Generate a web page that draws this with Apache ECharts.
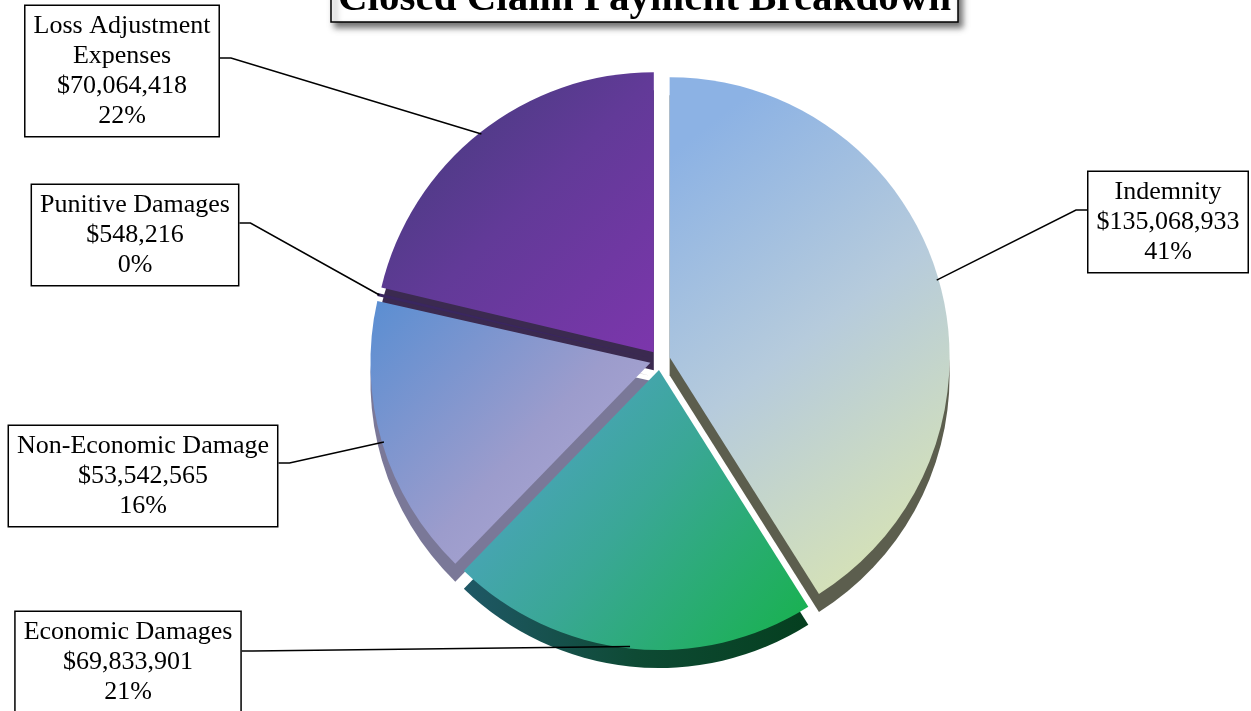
<!DOCTYPE html>
<html><head><meta charset="utf-8">
<script src="https://cdn.jsdelivr.net/npm/echarts@6/dist/echarts.min.js"></script>
<style>html,body{margin:0;padding:0;background:#fff}#c{width:1251px;height:711px}</style>
</head><body><div id="c"></div>
<script>
// ---- data ----
const categories = ['Indemnity', 'Economic Damages', 'Non-Economic Damage', 'Punitive Damages', 'Loss Adjustment\nExpenses'];
const amounts = [135068933, 69833901, 53542565, 548216, 70064418];
const titleText = 'Closed Claim Payment Breakdown';

// ---- styles / layout ----
const G = echarts.graphic.LinearGradient;
const topStyles = [
  new G(0, 0.15, 1, 0.85, [{offset: 0, color: '#8cb2e4'}, {offset: 0.5, color: '#b6cbdc'}, {offset: 1, color: '#d6e2b6'}]),
  new G(0, 0, 1, 1, [{offset: 0, color: '#56a2d4'}, {offset: 0.5, color: '#3aa796'}, {offset: 1, color: '#16b24a'}]),
  new G(0, 0, 1, 1, [{offset: 0, color: '#5a8ed2'}, {offset: 0.55, color: '#9c9ccc'}, {offset: 1, color: '#b4acd6'}]),
  '#3a2660',
  new G(0, 0, 1, 1, [{offset: 0, color: '#3f3c78'}, {offset: 0.5, color: '#623a98'}, {offset: 1, color: '#7c36ac'}])
];
const sideStyles = [
  '#5c5e4e',
  new G(0, 0, 1, 0, [{offset: 0, color: '#1f5866'}, {offset: 0.5, color: '#0e4a34'}, {offset: 1, color: '#053f1f'}]),
  '#7a7898',
  '#2a1a3c',
  '#3b2a50'
];
// label box centres and leader-line heights
const labelBoxes = [
  {cx: 1168, cy: 222, lineY: 210, side: 'left'},
  {cx: 128,  cy: 662, lineY: 651, side: 'right'},
  {cx: 143,  cy: 476, lineY: 463, side: 'right'},
  {cx: 135,  cy: 235, lineY: 223, side: 'right'},
  {cx: 122,  cy: 71,  lineY: 58,  side: 'right'}
];
const pieCenter = [660, 360];
const pieRadius = 280;
const depth = 18;
const explode = 10;

const fmtMoney = v => '$' + v.toLocaleString('en-US');

const makeData = styles => categories.map((name, i) => ({
  name: name, value: amounts[i], selected: true,
  itemStyle: {color: styles[i]}
}));

const basePie = {
  type: 'pie',
  radius: [0, pieRadius],
  startAngle: 90, clockwise: true,
  emphasis: {disabled: true},
  silent: true
};

const chart = echarts.init(document.getElementById('c'));
chart.setOption({
  animation: false,
  backgroundColor: '#fff',
  title: {
    text: titleText,
    left: 331, top: -21,
    padding: [0, 7, 2, 7],
    backgroundColor: '#fff',
    borderColor: '#000', borderWidth: 1.5,
    shadowColor: 'rgba(0,0,0,0.55)', shadowBlur: 6, shadowOffsetX: 4, shadowOffsetY: 5,
    textStyle: {fontFamily: 'Liberation Serif', fontWeight: 'bold', fontSize: 41, lineHeight: 41, color: '#000'}
  },
  series: [
    Object.assign({}, basePie, {
      z: 1,
      center: [pieCenter[0], pieCenter[1] + depth],
      selectedMode: 'multiple', selectedOffset: explode,
      label: {show: false}, labelLine: {show: false},
      data: makeData(sideStyles)
    }),
    Object.assign({}, basePie, {
      z: 2,
      center: pieCenter,
      selectedMode: 'multiple', selectedOffset: explode,
      label: {show: false}, labelLine: {show: false},
      data: makeData(topStyles)
    }),
    // label carrier: same values, transparent sectors, not exploded
    Object.assign({}, basePie, {
      z: 3,
      center: pieCenter,
      selectedMode: false,
      percentPrecision: 0,
      itemStyle: {color: 'rgba(0,0,0,0)'},
      label: {
        show: true, position: 'outside',
        formatter: p => p.name + '\n' + fmtMoney(p.value) + '\n' + p.percent + '%',
        fontFamily: 'Liberation Serif', fontSize: 26, lineHeight: 30, color: '#000',
        align: 'center',
        backgroundColor: '#fff', borderColor: '#000', borderWidth: 1.5,
        padding: [5, 8]
      },
      labelLine: {show: true, length: 20, length2: 20, smooth: false, lineStyle: {color: '#000', width: 1.5}},
      labelLayout: function (p) {
        const b = labelBoxes[p.dataIndex];
        const w = p.labelRect.width;
        const edgeX = b.side === 'left' ? b.cx - w / 2 : b.cx + w / 2;
        const elbowX = b.side === 'left' ? edgeX - 11 : edgeX + 11;
        let start = p.labelLinePoints ? p.labelLinePoints[0] : [pieCenter[0], pieCenter[1]];
        const ddx = start[0] - pieCenter[0], ddy = start[1] - pieCenter[1];
        const len = Math.sqrt(ddx * ddx + ddy * ddy) || 1;
        const push = explode * 0.8;
        start = [start[0] + ddx / len * push, start[1] + ddy / len * push];
        return {
          x: b.cx, y: b.cy, align: 'center', verticalAlign: 'middle',
          labelLinePoints: [start, [elbowX, b.lineY], [edgeX, b.lineY]]
        };
      },
      data: categories.map((name, i) => ({name: name, value: amounts[i]}))
    })
  ]
});
</script></body></html>
